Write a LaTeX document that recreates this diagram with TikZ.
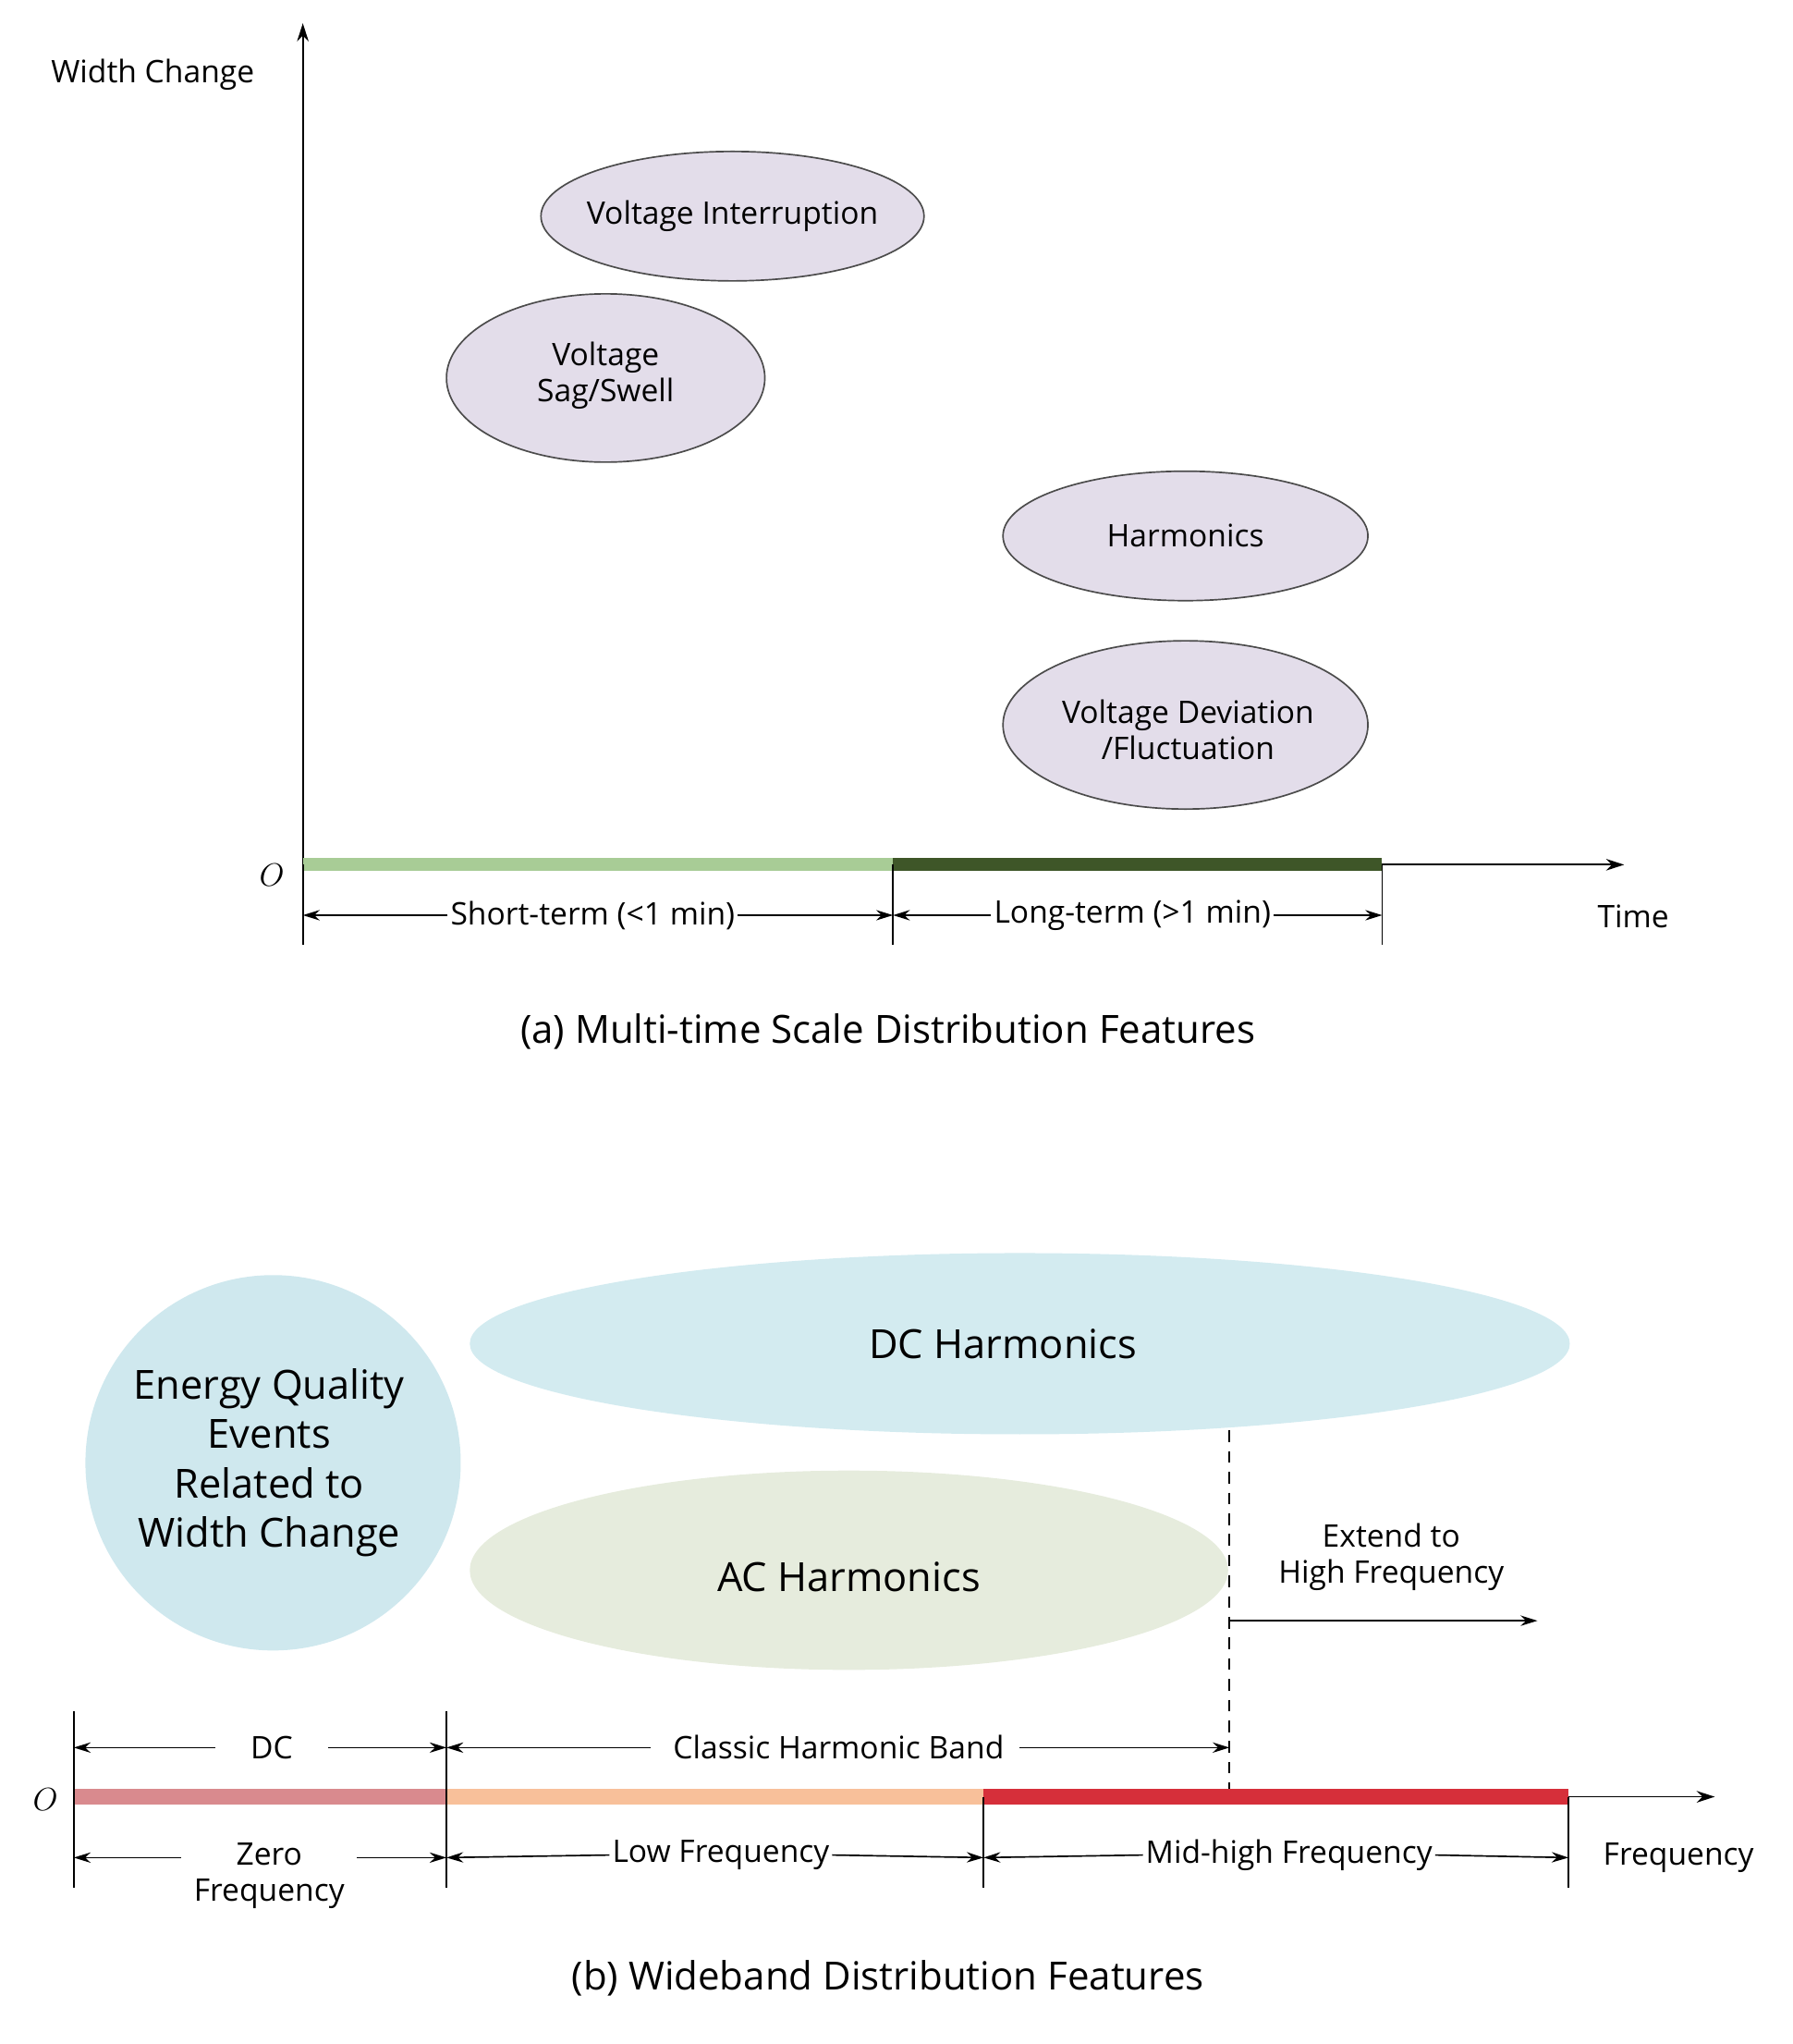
\documentclass[tikz,border=0pt]{standalone}
\usepackage{fontspec}
\setmainfont{Open Sans}
\usetikzlibrary{arrows.meta}
\definecolor{cgreenL}{RGB}{168,204,150}
\definecolor{cgreenD}{RGB}{62,86,40}
\definecolor{ccirc}{RGB}{207,232,238}
\definecolor{cdch}{RGB}{211,235,240}
\definecolor{cach}{RGB}{230,236,221}
\definecolor{cpink}{RGB}{217,138,142}
\definecolor{cpeach}{RGB}{248,192,154}
\definecolor{cred}{RGB}{214,47,58}
\definecolor{clav}{RGB}{227,221,234}
\begin{document}
\begin{tikzpicture}[x=1pt,y=-1pt,
  lbl/.style={font=\fontsize{24}{28}\selectfont, inner sep=2pt},
  ell/.style={draw=black!70, line width=1.2pt, fill=clav},
  big/.style={font=\fontsize{31}{38}\selectfont, align=center},
  captxt/.style={font=\fontsize{30}{36}\selectfont},
  ax/.style={line width=1.3pt, -{Stealth[length=14pt,width=9pt]}},
  dim/.style={line width=1.2pt, -{Stealth[length=13pt,width=8pt]}},
  tick/.style={line width=1.2pt}]
\useasboundingbox (0,0) rectangle (1385,1579);
% ---------- (a)
\coordinate (ya0) at (234,670); \coordinate (ya1) at (234,18);
\coordinate (xa0) at (234,668); \coordinate (xa1) at (1255,668);
\draw[ax] (ya0) -- (ya1);
\draw[ax] (xa0) -- (xa1);
\node[lbl] (wc) at (118,58) {Width Change};
\node[font=\itshape\fontsize{32}{36}\selectfont] (oa) at (210,676) {$O$};
\coordinate (am) at (690,668); \coordinate (ae) at (1068,668);
\draw[line width=10pt, draw=cgreenL] (xa0) -- (am);
\draw[line width=10pt, draw=cgreenD] (am) -- (ae);
\coordinate (ta1) at (234,730); \coordinate (ta2) at (690,730); \coordinate (ta3) at (1068,730);
\draw[tick] (xa0) -- (ta1); \draw[tick] (am) -- (ta2); \draw[tick] (ae) -- (ta3);
\coordinate (da1) at (234,707); \coordinate (da2) at (690,707); \coordinate (da3) at (1068,707);
\node[lbl] (st) at (458,707) {Short-term (<1 min)};
\node[lbl] (lt) at (875,707) {Long-term (>1 min)};
\draw[dim] (st.west) -- (da1); \draw[dim] (st.east) -- (da2);
\draw[dim] (lt.west) -- (da2); \draw[dim] (lt.east) -- (da3);
\node[lbl] (time) at (1262,708) {Time};
\draw[ell] (566,167) ellipse [x radius=148, y radius=50];
\node[lbl] (vi) at (566,167) {Voltage Interruption};
\draw[ell] (468,292) ellipse [x radius=123, y radius=65];
\node[lbl,align=center] (vs) at (468,290) {Voltage\\Sag/Swell};
\draw[ell] (916,414) ellipse [x radius=141, y radius=50];
\node[lbl] (hm) at (916,414) {Harmonics};
\draw[ell] (916,560) ellipse [x radius=141, y radius=65];
\node[lbl,align=center] (vd) at (918,564) {Voltage Deviation\\/Fluctuation};
\node[captxt] (capa) at (686,797) {(a) Multi-time Scale Distribution Features};
% ---------- (b)
\fill[ccirc] (211,1130) circle (145);
\node[big] (eq) at (208,1130) {Energy Quality\\Events\\Related to\\Width Change};
\fill[cdch] (788,1038) ellipse [x radius=425, y radius=70];
\node[big] (dch) at (775,1038) {DC Harmonics};
\fill[cach] (656,1213) ellipse [x radius=293, y radius=77];
\node[big] (ach) at (656,1218) {AC Harmonics};
\coordinate (dt) at (950,1105); \coordinate (db) at (950,1385);
\draw[line width=1.2pt, dash pattern=on 9pt off 7pt] (dt) -- (db);
\coordinate (ex0) at (950,1252); \coordinate (ex1) at (1188,1252);
\draw[dim] (ex0) -- (ex1);
\node[lbl,align=center] (ext) at (1075,1203) {Extend to\\High Frequency};
\coordinate (xb0) at (57,1388); \coordinate (xb1) at (1325,1388);
\draw[ax] (xb0) -- (xb1);
\coordinate (b1) at (345,1388); \coordinate (b2) at (760,1388); \coordinate (b3) at (1212,1388);
\draw[line width=12pt, draw=cpink] (xb0) -- (b1);
\draw[line width=12pt, draw=cpeach] (b1) -- (b2);
\draw[line width=12pt, draw=cred] (b2) -- (b3);
\node[font=\itshape\fontsize{32}{36}\selectfont] (ob) at (35,1390) {$O$};
\coordinate (t0u) at (57,1322); \coordinate (t0d) at (57,1458);
\coordinate (t1u) at (345,1322); \coordinate (t1d) at (345,1458);
\coordinate (t2d) at (760,1458); \coordinate (t3d) at (1212,1458);
\draw[tick] (t0u) -- (t0d); \draw[tick] (t1u) -- (t1d);
\draw[tick] (b2) -- (t2d); \draw[tick] (b3) -- (t3d);
\coordinate (u0) at (57,1350); \coordinate (u1) at (345,1350); \coordinate (u2) at (950,1350);
\node[lbl] (dc) at (210,1350) {DC};
\node[lbl] (chb) at (648,1350) {Classic Harmonic Band};
\draw[dim] (dc.west) ++(-25,0) -- (u0); \draw[dim] (dc.east) ++(25,0) -- (u1);
\draw[dim] (chb.west) ++(-15,0) -- (u1); \draw[dim] (chb.east) ++(10,0) -- (u2);
\coordinate (l0) at (57,1435); \coordinate (l1) at (345,1435); \coordinate (l2) at (760,1435); \coordinate (l3) at (1212,1435);
\node[lbl,align=center] (zf) at (208,1449) {Zero\\Frequency};
\coordinate (zfl) at (140,1435); \coordinate (zfr) at (276,1435);
\draw[dim] (zfl) -- (l0); \draw[dim] (zfr) -- (l1);
\node[lbl] (lf) at (557,1433) {Low Frequency};
\draw[dim] (lf.west) -- (l1); \draw[dim] (lf.east) -- (l2);
\node[lbl] (mh) at (996,1433) {Mid-high Frequency};
\draw[dim] (mh.west) -- (l2); \draw[dim] (mh.east) -- (l3);
\node[lbl] (freq) at (1297,1435) {Frequency};
\node[captxt] (capb) at (686,1528) {(b) Wideband Distribution Features};
\end{tikzpicture}
\end{document}
